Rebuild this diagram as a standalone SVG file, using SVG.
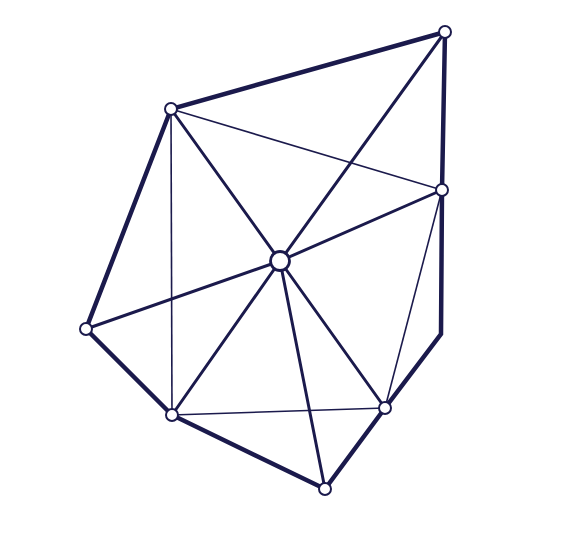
<svg xmlns="http://www.w3.org/2000/svg" width="567" height="557" viewBox="0 0 567 557">
<style>
.outer{stroke:#1b1a4c;stroke-width:4.5;fill:none;stroke-linejoin:miter;stroke-linecap:round}
.mid{stroke:#1b1a4c;stroke-width:3;fill:none;stroke-linecap:round}
.thin{stroke:#1b1a4c;stroke-width:1.6;fill:none}
.node{fill:#ffffff;stroke:#1b1a4c;stroke-width:2}
.hub{fill:#ffffff;stroke:#1b1a4c;stroke-width:2.8}
</style>
<rect width="567" height="557" fill="#ffffff"/>
<g id="connectors">
<polyline class="outer" points="445,32 171,109 86,329 172,415 325,489 385,408 441,334 442,190 445,32"/>
<line class="thin" x1="171" y1="109" x2="442" y2="190"/>
<line class="thin" x1="171" y1="109" x2="172" y2="415"/>
<line class="thin" x1="172" y1="415" x2="385" y2="408"/>
<line class="thin" x1="442" y1="190" x2="385" y2="408"/>
<line class="mid" x1="280" y1="261" x2="171" y2="109"/>
<line class="mid" x1="280" y1="261" x2="445" y2="32"/>
<line class="mid" x1="280" y1="261" x2="442" y2="190"/>
<line class="mid" x1="280" y1="261" x2="86" y2="329"/>
<line class="mid" x1="280" y1="261" x2="172" y2="415"/>
<line class="mid" x1="280" y1="261" x2="385" y2="408"/>
<line class="mid" x1="280" y1="261" x2="325" y2="489"/>
</g>
<g id="nodeA"><circle class="node" cx="445" cy="32" r="6"/></g>
<g id="nodeB"><circle class="node" cx="171" cy="109" r="6"/></g>
<g id="nodeC"><circle class="node" cx="442" cy="190" r="6"/></g>
<g id="nodeD"><circle class="hub" cx="280" cy="261" r="9.5"/></g>
<g id="nodeE"><circle class="node" cx="86" cy="329" r="6"/></g>
<g id="nodeF"><circle class="node" cx="172" cy="415" r="6"/></g>
<g id="nodeG"><circle class="node" cx="385" cy="408" r="6"/></g>
<g id="nodeH"><circle class="node" cx="325" cy="489" r="6"/></g>
</svg>
